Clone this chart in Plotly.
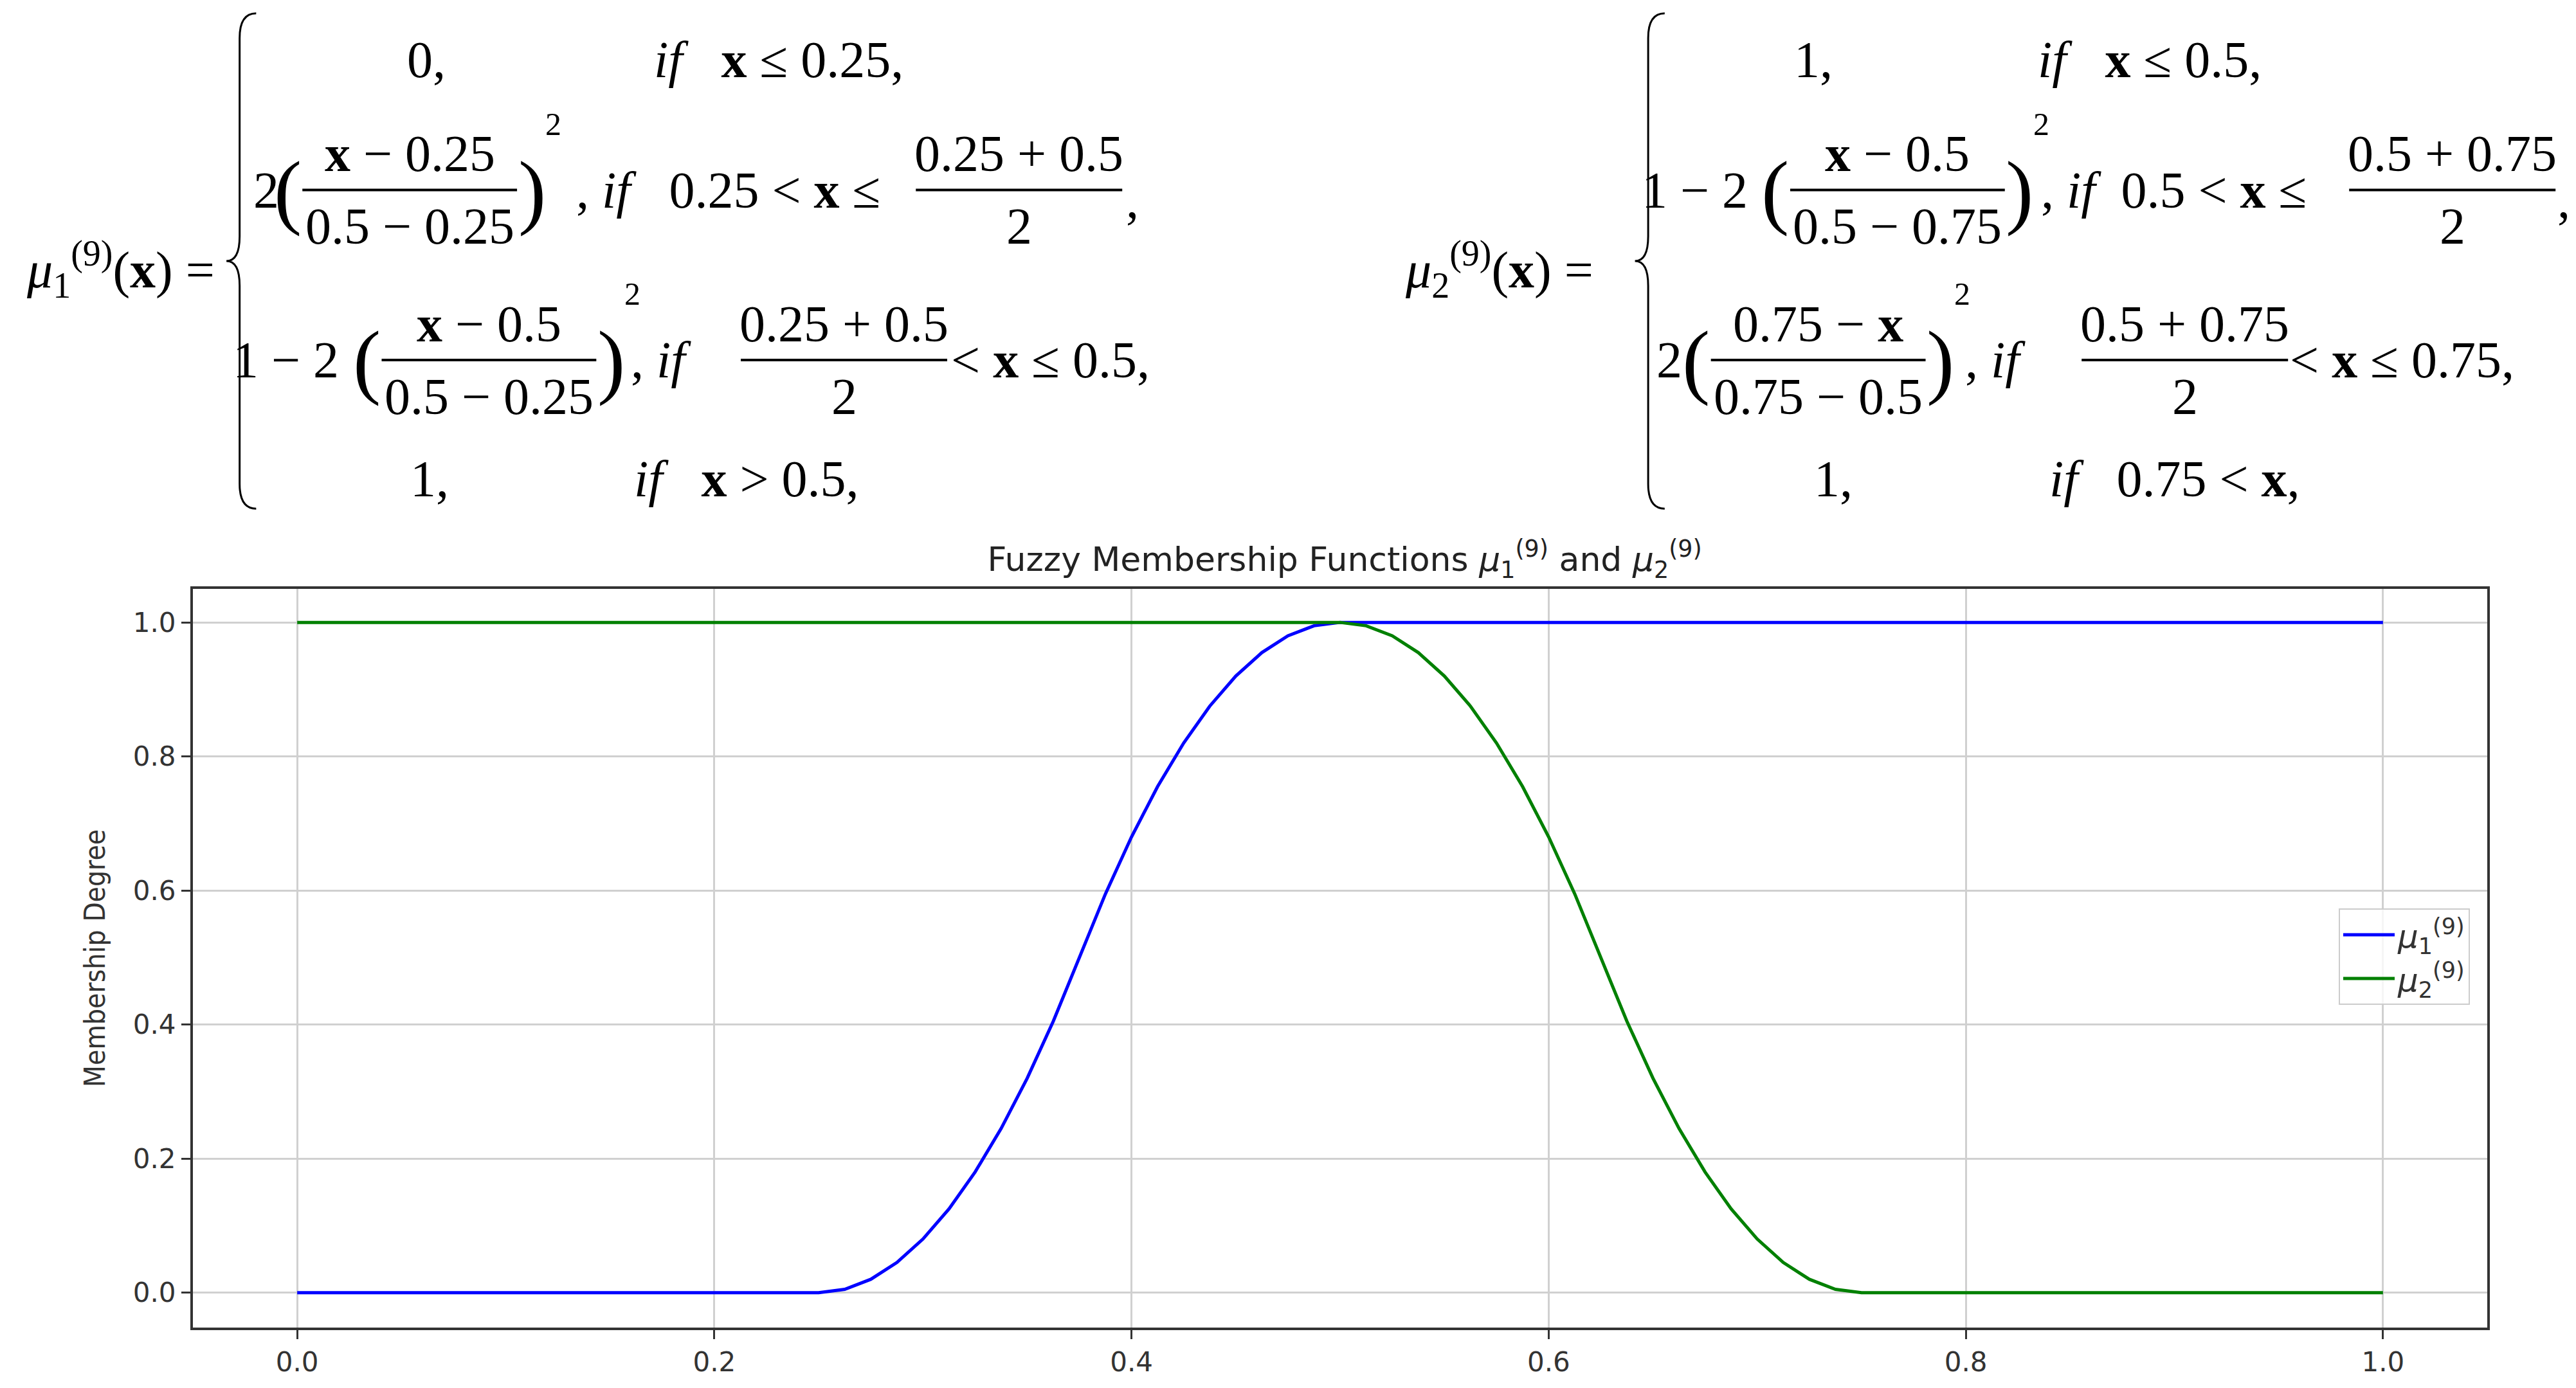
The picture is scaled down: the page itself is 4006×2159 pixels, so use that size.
import plotly.graph_objects as go

# values
x_mu1 = [0.0, 0.25, 0.2625, 0.275, 0.2875, 0.3, 0.3125, 0.325, 0.3375, 0.35, 0.3625, 0.375, 0.3875, 0.4,
         0.4125, 0.425, 0.4375, 0.45, 0.4625, 0.475, 0.4875, 0.5, 1.0]
y_mu1 = [0.0, 0.0, 0.005, 0.02, 0.045, 0.08, 0.125, 0.18, 0.245, 0.32, 0.405, 0.5, 0.595, 0.68,
         0.755, 0.82, 0.875, 0.92, 0.955, 0.98, 0.995, 1.0, 1.0]
x_mu2 = [0.0, 0.5, 0.5125, 0.525, 0.5375, 0.55, 0.5625, 0.575, 0.5875, 0.6, 0.6125, 0.625, 0.6375, 0.65,
         0.6625, 0.675, 0.6875, 0.7, 0.7125, 0.725, 0.7375, 0.75, 1.0]
y_mu2 = [1.0, 1.0, 0.995, 0.98, 0.955, 0.92, 0.875, 0.82, 0.755, 0.68, 0.595, 0.5, 0.405, 0.32,
         0.245, 0.18, 0.125, 0.08, 0.045, 0.02, 0.005, 0.0, 0.0]
x_ticks = [0.0, 0.2, 0.4, 0.6, 0.8, 1.0]
y_ticks = [0.0, 0.2, 0.4, 0.6, 0.8, 1.0]

W, H = 4006, 2159
K = W / 1560.0  # reference was read at ~1560 px width
SERIF = "Liberation Serif"

fig = go.Figure()
fig.add_trace(go.Scatter(x=x_mu1, y=y_mu1, mode="lines", line=dict(color="blue", width=5),
                         name="<i>μ</i><sub>1</sub><sup>(9)</sup>"))
fig.add_trace(go.Scatter(x=x_mu2, y=y_mu2, mode="lines", line=dict(color="green", width=5),
                         name="<i>μ</i><sub>2</sub><sup>(9)</sup>"))

ann = []
shapes = []


def px(x):
    return x * K / W


def py(y):
    return 1 - y * K / H


def txt(x, y, s, size=80, anchor="center"):
    ann.append(dict(x=px(x), y=py(y), xref="paper", yref="paper", text=s, showarrow=False,
                    xanchor=anchor, yanchor="middle", font=dict(family=SERIF, size=size, color="black")))


def frac(xc, y, num, den, w):
    txt(xc, y - 22, num)
    txt(xc, y + 22, den)
    shapes.append(dict(type="line", xref="paper", yref="paper", x0=px(xc - w / 2), x1=px(xc + w / 2),
                       y0=py(y), y1=py(y), line=dict(color="black", width=4)))
    # brackets around the fraction
    txt(xc - w / 2 - 9, y, "(", size=130)
    txt(xc + w / 2 + 9, y, ")", size=130)
    txt(xc + w / 2 + 22, y - 40, "2", size=50)


def plain_frac(xc, y, num, den, w):
    txt(xc, y - 22, num)
    txt(xc, y + 22, den)
    shapes.append(dict(type="line", xref="paper", yref="paper", x0=px(xc - w / 2), x1=px(xc + w / 2),
                       y0=py(y), y1=py(y), line=dict(color="black", width=4)))


def brace(x, y0, y1):
    m = (y0 + y1) / 2
    pts = [(x + 10, y0), (x, y0), (x, y0 + 15), (x, m - 15), (x, m), (x - 8, m), (x, m), (x, m + 15),
           (x, y1 - 15), (x, y1), (x + 10, y1)]
    p = [(px(a), py(b)) for a, b in pts]
    path = "M {},{} Q {},{} {},{} L {},{} Q {},{} {},{} Q {},{} {},{} L {},{} Q {},{} {},{}".format(
        *p[0], *p[1], *p[2], *p[3], *p[4], *p[5], *p[6], *p[7], *p[8], *p[9], *p[10])
    shapes.append(dict(type="path", xref="paper", yref="paper", path=path, line=dict(color="black", width=3)))


X = "<b>x</b>"
IF = "<i>if</i>"

# left equation
txt(70, 160, "<i>μ</i><sub>1</sub><sup>(9)</sup>(" + X + ") =")
brace(142, 5, 305)
txt(255, 33, "0,")
txt(392, 33, IF + "   " + X + " ≤ 0.25,", anchor="left")
txt(158, 112, "2")
frac(245, 112, X + " − 0.25", "0.5 − 0.25", 130)
txt(345, 112, ", " + IF + "   0.25 < " + X + " ≤", anchor="left")
plain_frac(614, 112, "0.25 + 0.5", "2", 125)
txt(678, 118, ",", anchor="left")
txt(170, 215, "1 − 2")
frac(293, 215, X + " − 0.5", "0.5 − 0.25", 130)
txt(378, 215, ", " + IF, anchor="left")
plain_frac(508, 215, "0.25 + 0.5", "2", 125)
txt(572, 215, "< " + X + " ≤ 0.5,", anchor="left")
txt(257, 287, "1,")
txt(380, 287, IF + "   " + X + " > 0.5,", anchor="left")

# right equation
txt(905, 160, "<i>μ</i><sub>2</sub><sup>(9)</sup>(" + X + ") =")
brace(995, 5, 305)
txt(1095, 33, "1,")
txt(1230, 33, IF + "   " + X + " ≤ 0.5,", anchor="left")
txt(1023, 112, "1 − 2")
frac(1146, 112, X + " − 0.5", "0.5 − 0.75", 130)
txt(1232, 112, ", " + IF + "  0.5 < " + X + " ≤", anchor="left")
plain_frac(1482, 112, "0.5 + 0.75", "2", 125)
txt(1545, 118, ",", anchor="left")
txt(1008, 215, "2")
frac(1098, 215, "0.75 − " + X, "0.75 − 0.5", 130)
txt(1186, 215, ", " + IF, anchor="left")
plain_frac(1320, 215, "0.5 + 0.75", "2", 125)
txt(1383, 215, "< " + X + " ≤ 0.75,", anchor="left")
txt(1107, 287, "1,")
txt(1237, 287, IF + "   0.75 < " + X + ",", anchor="left")

axis_common = dict(showline=True, mirror=True, linecolor="#333333", linewidth=4, ticks="outside", ticklen=14,
                   tickwidth=3, tickcolor="#333333", showgrid=True, gridcolor="#d0d0d0", gridwidth=3,
                   zeroline=False, tickfont=dict(family="DejaVu Sans", size=42, color="#333333"), tickformat=".1f")

fig.update_layout(
    width=W, height=H, margin=dict(l=0, r=0, t=0, b=0),
    paper_bgcolor="white", plot_bgcolor="white",
    title=dict(text="Fuzzy Membership Functions <i>μ</i><sub>1</sub><sup>(9)</sup> and <i>μ</i><sub>2</sub><sup>(9)</sup>",
               x=0.52, xanchor="center", y=1 - 862 / H, yanchor="middle",
               font=dict(family="DejaVu Sans", size=52, color="#222222")),
    xaxis=dict(domain=[292 / W, 3860 / W], range=[-0.05, 1.05], tickvals=x_ticks, **axis_common),
    yaxis=dict(domain=[1 - 2057 / H, 1 - 908 / H], range=[-0.052, 1.05], tickvals=y_ticks,
               title=dict(text="Membership Degree", font=dict(family="DejaVu Sans Condensed", size=44, color="#333333"),
                          standoff=30), **axis_common),
    legend=dict(x=3833 / W, xanchor="right", y=1 - 1480 / H, yanchor="middle", bgcolor="rgba(255,255,255,0.8)",
                bordercolor="#cccccc", borderwidth=2, itemwidth=80, tracegroupgap=20,
                font=dict(family="DejaVu Sans", size=50, color="#333333")),
    annotations=ann, shapes=shapes, showlegend=True,
)

fig.write_html("out.html")
